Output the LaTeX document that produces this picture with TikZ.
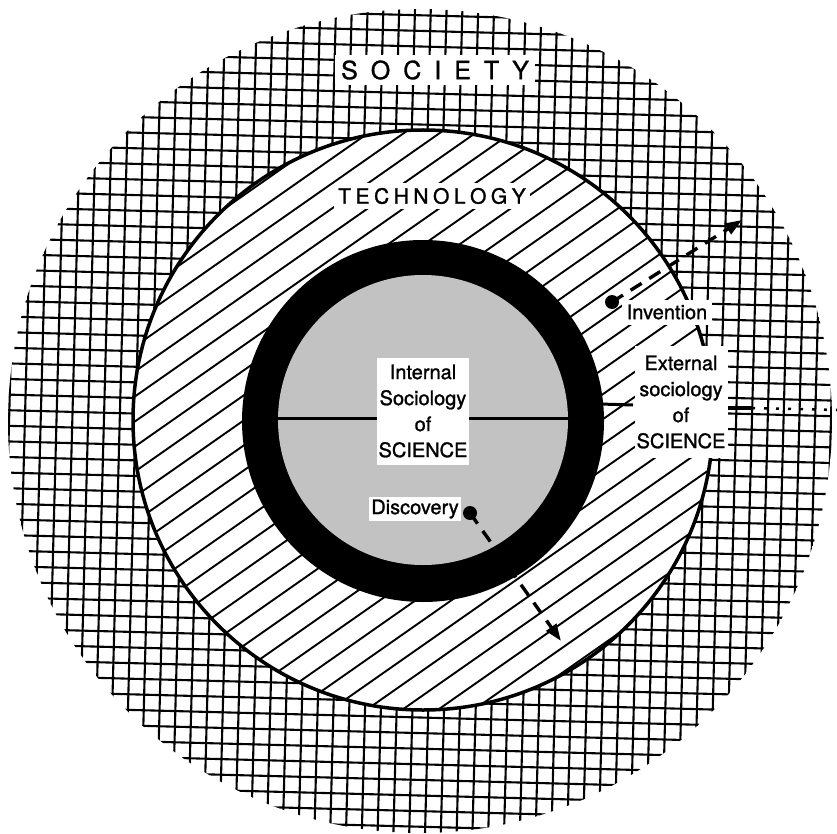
\documentclass[tikz,border=0pt]{standalone}
\usepackage{fontspec}
\setmainfont{TeX Gyre Heros}
\newfontfamily\labelfont[FakeBold=1.2]{TeX Gyre Heros}
\usetikzlibrary{arrows.meta}
\begin{document}
\begin{tikzpicture}[x=1pt,y=-1pt,
  gridline/.style={line width=2.1pt},
  hatchline/.style={line width=1.9pt},
  labelbox/.style={fill=white, inner sep=0pt, align=center, font=\labelfont\fontsize{20}{26}\selectfont},
  dashedarrow/.style={line width=3.4pt, dash pattern=on 13pt off 9pt, -{Triangle[length=17pt,width=12pt]}},
  dotmark/.style={circle, fill=black, minimum size=14pt, inner sep=0pt},
  axisline/.style={line width=3pt}
]
\useasboundingbox (0,0) rectangle (837,834);
\fill[white] (0,0) rectangle (837,834);
% SOCIETY: grid
\begin{scope}
  \clip (420,421) circle (412);
  \begin{scope}[rotate around={-1.5:(420,421)}]
    \foreach \i in {-29,...,29} {
      \draw[gridline] (-40, 421+\i*15.6) -- (880, 421+\i*15.6);
      \draw[gridline] (420+\i*15.8, -40) -- (420+\i*15.8, 880);
    }
  \end{scope}
\end{scope}
% TECHNOLOGY: hatching
\fill[white] (423,420) circle (290);
\begin{scope}
  \clip (423,420) circle (290);
  \foreach \i in {-16,...,16} {
    \draw[hatchline] (423+\i*11.76-340, 420+\i*16.79+238) -- (423+\i*11.76+340, 420+\i*16.79-238);
  }
\end{scope}
\draw[line width=3.5pt] (423,420) circle (290);
% SCIENCE: black ring and grey core
\fill[black] (423,421) circle (181);
\fill[black!24] (423,420) circle (145);
% horizontal division line
\coordinate (la) at (278,418);
\coordinate (lb) at (570,418);
\coordinate (lc) at (600,404);
\coordinate (ld) at (633,405);
\coordinate (le) at (728,408);
\coordinate (lf) at (752,408);
\coordinate (lg) at (837,410);
\draw[axisline] (la) -- (lb);
\draw[axisline] (lc) -- (ld);
\draw[line width=3.5pt] (le) -- (lf);
\draw[line width=2.5pt, dash pattern=on 3pt off 9pt] (lf) -- (lg);
% labels
\node[labelbox, minimum width=200pt, minimum height=30pt, font=\labelfont\fontsize{25}{28}\selectfont] (society) at (435,70)
  {S\hspace{13pt}O\hspace{13pt}C\hspace{13pt}I\hspace{13pt}E\hspace{13pt}T\hspace{13pt}Y};
\node[labelbox, minimum width=196pt, minimum height=26pt, font=\labelfont\fontsize{21}{24}\selectfont] (technology) at (432,196)
  {T\hspace{4.5pt}E\hspace{4.5pt}C\hspace{4.5pt}H\hspace{4.5pt}N\hspace{4.5pt}O\hspace{4.5pt}L\hspace{4.5pt}O\hspace{4.5pt}G\hspace{4.5pt}Y};
\node[labelbox, minimum width=92pt, minimum height=107pt] (internal) at (423,411)
  {Internal\\Sociology\\of\\SCIENCE};
\node[labelbox, minimum width=93pt, minimum height=112pt] (external) at (681,402)
  {External\\sociology\\of\\SCIENCE};
\node[labelbox, minimum width=90pt, minimum height=25pt] (invention) at (667,312) {Invention};
\node[labelbox, minimum width=92pt, minimum height=24pt] (discovery) at (415,509) {Discovery};
% arrows
\node[dotmark] (invdot) at (612,302) {};
\coordinate (invtip) at (742,220);
\draw[dashedarrow] (invdot.center) -- (invtip);
\node[dotmark] (disdot) at (470,513) {};
\coordinate (distip) at (561,641);
\draw[dashedarrow] (disdot.center) -- (distip);
\end{tikzpicture}
\end{document}
